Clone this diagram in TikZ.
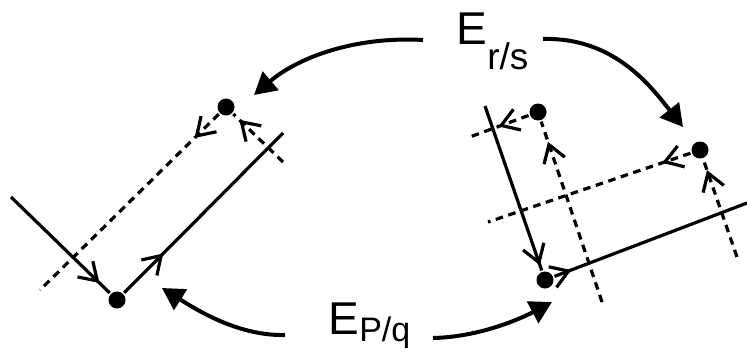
\documentclass[tikz,border=0pt]{standalone}
\usepackage{fontspec}
\setmainfont{Liberation Sans}
\usetikzlibrary{arrows.meta,decorations.markings}

\begin{document}
\begin{tikzpicture}[x=0.5pt,y=-0.5pt,line width=1.6pt,
  dot/.style={circle,fill,inner sep=0pt,minimum size=8.5pt},
  dashline/.style={dash pattern=on 3.8pt off 2.8pt},
  swing/.style={line width=2pt,-{Triangle[length=11pt,width=12pt]}},
  barbat/.style={postaction={decorate},decoration={markings,mark=at position #1 with {\arrow{Straight Barb[length=8.5pt,width=11pt]}}}},
  elabel/.style={anchor=base west,inner sep=0pt,font=\fontsize{23}{23}\selectfont}]
\useasboundingbox (0,0) rectangle (747,354);

\node[dot] (L1) at (117,300) {};
\node[dot] (L2) at (226,107) {};
\node[dot] (R1) at (545,280) {};
\node[dot] (R2) at (538,112) {};
\node[dot] (R3) at (700,150) {};

\coordinate (a1) at (11,197);
\coordinate (a2) at (283,133);
\coordinate (a3) at (40,290);
\coordinate (a4) at (283,162);
\coordinate (b1) at (485,106);
\coordinate (b2) at (747,203);
\coordinate (b3) at (467,138);
\coordinate (b4) at (602,302);
\coordinate (b5) at (488,222);
\coordinate (b6) at (737,257);

\draw[barbat=-7.1pt] (a1) -- (L1);
\draw[barbat=27.7pt] (L1) -- (a2);
\draw[dashline,barbat=17pt] (L2) -- (a3);
\draw[dashline,barbat=-4.2pt] (a4) -- (L2);

\draw[barbat=-2.7pt] (b1) -- (R1);
\draw[barbat=9pt] (R1) -- (b2);
\draw[dashline,barbat=16pt] (R2) -- (b3);
\draw[dashline,barbat=-10.6pt] (b4) -- (R2);
\draw[dashline,barbat=14.9pt] (R3) -- (b5);
\draw[dashline,barbat=-5.6pt] (b6) -- (R3);

\node[elabel] (Ers) at (455,44) {E\raisebox{-12.5pt}{\fontsize{18.5}{18.5}\selectfont r/s}};
\node[elabel] (Epq) at (327,334) {E\raisebox{-3.5pt}{\fontsize{17}{17}\selectfont P/q}};

\coordinate (ersL) at (423,40);
\coordinate (ersR) at (543,39);
\coordinate (epqL) at (285,335);
\coordinate (epqR) at (433,338);
\coordinate (tipL2) at (254,95);
\coordinate (tipR3) at (683,127);
\coordinate (tipL1) at (162,288);
\coordinate (tipR1) at (552,302);

\draw[swing] (ersL) .. controls (350,36) and (295,60) .. (tipL2);
\draw[swing] (ersR) .. controls (615,37) and (652,88) .. (tipR3);
\draw[swing] (epqL) .. controls (240,336) and (200,312) .. (tipL1);
\draw[swing] (epqR) .. controls (480,337) and (522,318) .. (tipR1);
\end{tikzpicture}
\end{document}
